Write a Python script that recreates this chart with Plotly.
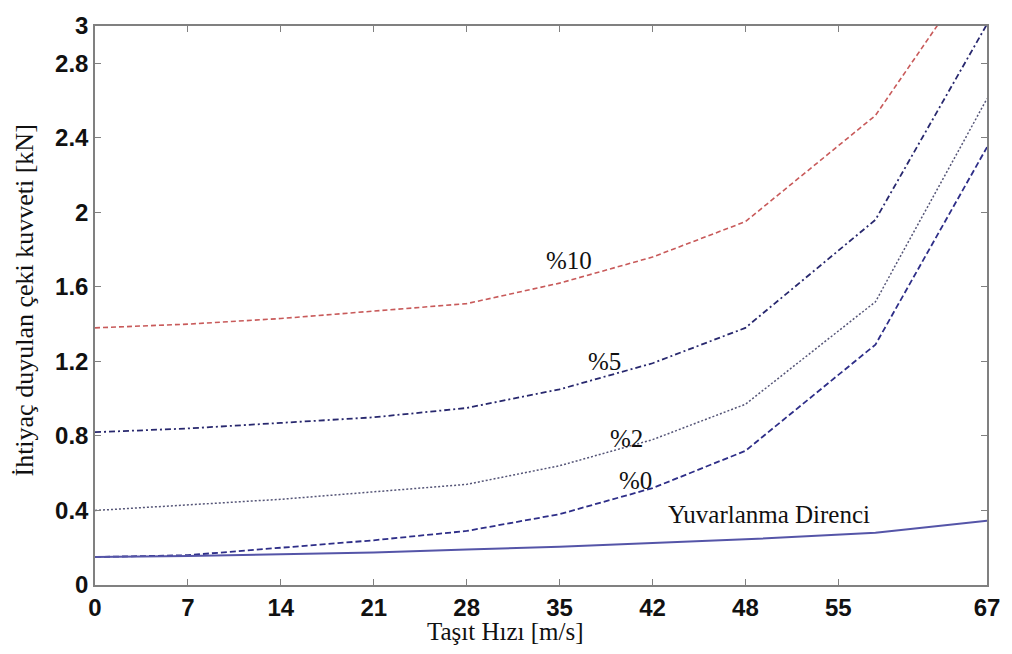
import plotly.graph_objects as go

# Speeds (m/s) at which curves were sampled
speed = [0, 6.94, 13.89, 20.83, 27.78, 34.72, 41.67, 48.61, 58.33, 66.67]

grade_10 = [1.38, 1.40, 1.43, 1.47, 1.51, 1.62, 1.76, 1.95, 2.52, 3.39]
grade_5 = [0.82, 0.84, 0.87, 0.90, 0.95, 1.05, 1.19, 1.38, 1.96, 3.01]
grade_2 = [0.40, 0.43, 0.46, 0.50, 0.54, 0.64, 0.78, 0.97, 1.52, 2.61]
grade_0 = [0.15, 0.16, 0.20, 0.24, 0.29, 0.38, 0.52, 0.72, 1.29, 2.35]
rolling = [0.15, 0.155, 0.165, 0.175, 0.19, 0.205, 0.225, 0.245, 0.28, 0.345]

x_tickvals = [0, 6.944, 13.889, 20.833, 27.778, 34.722, 41.667, 48.611, 55.556, 66.667]
x_ticktext = ["0", "7", "14", "21", "28", "35", "42", "48", "55", "67"]
y_tickvals = [0, 0.4, 0.8, 1.2, 1.6, 2.0, 2.4, 2.8, 3.0]
y_ticktext = ["0", "0.4", "0.8", "1.2", "1.6", "2", "2.4", "2.8", "3"]

labels = ["%10", "%5", "%2", "%0", "Yuvarlanma Direnci"]
label_x = [35.45, 38.05, 39.76, 40.36, 50.4]
label_y = [1.74, 1.20, 0.785, 0.56, 0.377]

fig = go.Figure()
fig.add_trace(go.Scatter(x=speed, y=grade_10, mode="lines",
                         line=dict(color="#c85a5a", width=1.6, dash="5px,3px")))
fig.add_trace(go.Scatter(x=speed, y=grade_5, mode="lines",
                         line=dict(color="#28286e", width=1.8, dash="6px,3px,2px,3px")))
fig.add_trace(go.Scatter(x=speed, y=grade_2, mode="lines",
                         line=dict(color="#555577", width=1.5, dash="2px,2px")))
fig.add_trace(go.Scatter(x=speed, y=grade_0, mode="lines",
                         line=dict(color="#2e2e88", width=1.8, dash="6px,3px")))
fig.add_trace(go.Scatter(x=speed, y=rolling, mode="lines",
                         line=dict(color="#5555a8", width=2)))

for t, lx, ly in zip(labels, label_x, label_y):
    fig.add_annotation(x=lx, y=ly, text=t, showarrow=False,
                       xanchor="center", yanchor="middle",
                       font=dict(family="Liberation Serif", size=25, color="#111"))

# Axis titles as annotations (positioned like the reference)
fig.add_annotation(xref="paper", yref="paper", x=(508 - 95) / 897, y=-48 / 573,
                   xanchor="center", yanchor="middle",
                   text="Taşıt Hızı [m/s]", showarrow=False,
                   font=dict(family="Liberation Serif", size=25, color="#111"))
fig.add_annotation(xref="paper", yref="paper", x=(24 - 95) / 897, y=(585 - 293) / 573,
                   xanchor="center", yanchor="middle",
                   text="İhtiyaç duyulan çeki kuvveti [kN]", showarrow=False, textangle=-90,
                   font=dict(family="Liberation Serif", size=26, color="#111"))

axis_common = dict(showline=True, linecolor="#808080", linewidth=1.5, mirror="ticks",
                   ticks="inside", ticklen=6, tickcolor="#808080", showgrid=False,
                   zeroline=False,
                   tickfont=dict(family="Liberation Sans", size=24, color="#111",
                                 weight="bold"))

fig.update_xaxes(range=[0, 66.667], tickmode="array", tickvals=x_tickvals,
                 ticktext=x_ticktext, **axis_common)
fig.update_yaxes(range=[0, 3], tickmode="array", tickvals=y_tickvals,
                 ticktext=y_ticktext, **axis_common)

fig.update_layout(width=1012, height=654, showlegend=False,
                  margin=dict(l=95, r=20, t=12, b=69),
                  plot_bgcolor="white", paper_bgcolor="white",
                  font=dict(family="Liberation Sans"))

fig.write_html("out.html")
